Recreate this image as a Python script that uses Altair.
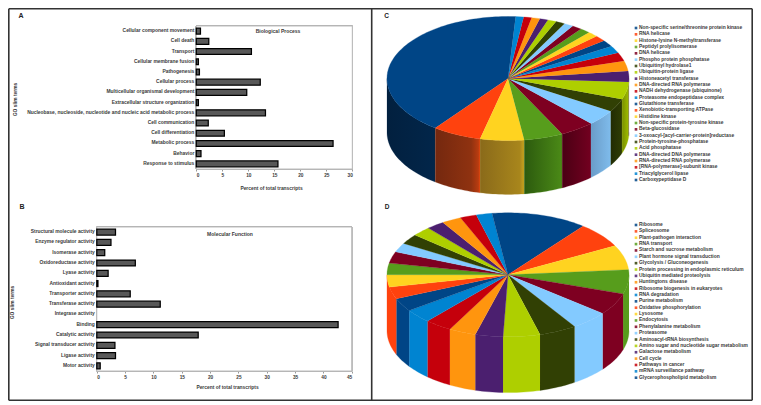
import math
import altair as alt
import pandas as pd

FONT = "Liberation Sans"
TXT = "#3a3a3a"
PALETTE = ["#004586", "#ff420e", "#ffd320", "#579d1c", "#7e0021", "#83caff",
           "#314004", "#aecf00", "#4b1f6f", "#ff950e", "#c5000b", "#0084d1"]

# ---- Panel A
bp_terms = ["Cellular component movement", "Cell death", "Transport", "Cellular membrane fusion",
            "Pathogenesis", "Cellular process", "Multicellular organismal development",
            "Extracellular structure organization",
            "Nucleobase, nucleoside, nucleotide and nucleic acid metabolic process",
            "Cell communication", "Cell differentiation", "Metabolic process", "Behavior",
            "Response to stimulus"]
bp_values = [0.8, 2.4, 10.6, 0.4, 0.6, 12.3, 9.7, 0.4, 13.3, 2.3, 5.4, 26.3, 0.9, 15.7]

# ---- Panel B
mf_terms = ["Structural molecule activity", "Enzyme regulator activity", "Isomerase activity",
            "Oxidoreductase activity", "Lyase activity", "Antioxidant activity",
            "Transporter activity", "Transferase activity", "Integrase activity", "Binding",
            "Catalytic activity", "Signal transducer activity", "Ligase activity", "Motor activity"]
mf_values = [3.3, 2.5, 1.4, 6.8, 2.0, 0.2, 5.9, 11.2, 0, 42.6, 17.9, 3.2, 3.3, 0.6]

# ---- Panel C
c_names = ["Non-specific serine/threonine protein kinase", "RNA helicase",
           "Histone-lysine N-methyltransferase", "Peptidyl prolylisomerase", "DNA helicase",
           "Phospho protein phosphatase", "Ubiquitinyl hydrolase1", "Ubiquitin-protein ligase",
           "Histoneacetyl transferase", "DNA-directed RNA polymerase",
           "NADH dehydrogenase (ubiquinone)", "Proteasome endopeptidase complex",
           "Glutathione transferase", "Xenobiotic-transporting ATPase", "Histidine kinase",
           "Non-specific protein-tyrosine kinase", "Beta-glucosidase",
           "3-oxoacyl-[acyl-carrier-protein]reductase", "Protein-tyrosine-phosphatase",
           "Acid phosphatase", "DNA-directed DNA polymerase", "RNA-directed RNA polymerase",
           "[RNA-polymerase]-subunit kinase", "Triacylglycerol lipase", "Carboxypeptidase D"]
c_values = [39.4, 6.5, 5.8, 5.2, 4.6, 4.1, 3.4, 4.5, 2.8, 2.6, 2.2, 1.9, 1.7, 1.5, 1.4,
            1.35, 1.3, 1.25, 1.2, 1.15, 1.1, 1.1, 1.05, 1.05, 1.0]

# ---- Panel D
d_names = ["Ribosome", "Spliceosome", "Plant-pathogen interaction", "RNA transport",
           "Starch and sucrose metabolism", "Plant hormone signal transduction",
           "Glycolysis / Gluconeogenesis", "Protein processing in endoplasmic reticulum",
           "Ubiquitin mediated proteolysis", "Huntingtons disease",
           "Ribosome biogenesis in eukaryotes", "RNA degradation", "Purine metabolism",
           "Oxidative phosphorylation", "Lysosome", "Endocytosis", "Phenylalanine metabolism",
           "Proteasome", "Aminoacyl-tRNA biosynthesis",
           "Amino sugar and nucleotide sugar metabolism", "Galactose metabolism", "Cell cycle",
           "Pathways in cancer", "mRNA surveillance pathway", "Glycerophospholipid metabolism"]
d_values = [10.6, 6.6, 6.4, 6.3, 5.7, 5.0, 5.0, 4.9, 3.7, 3.6, 3.6, 3.6, 3.5, 3.1, 3.2, 3.0,
            3.0, 2.4, 2.6, 2.5, 2.4, 2.6, 2.2, 2.1, 2.1]

W, H, M = 745, 393, 8


def px(v):
    return v - M


def arc(a, b):
    n = max(2, int(abs(b - a) / 1.5) + 1)
    return [a + (b - a) * k / (n - 1) for k in range(n)]


def pie_frames(names, values, sign, depth, merge_left):
    total = sum(values)
    tops, walls, cum = [], [], 0.0
    for idx, (name, val) in enumerate(zip(names, values)):
        a = cum / total * 360
        cum += val
        b = cum / total * 360
        lo, hi = (a, b) if sign > 0 else (360 - b, 360 - a)
        rows = [dict(name=name, i=0, x=0.0, y=0.0)]
        for j, t in enumerate(arc(lo, hi)):
            r = math.radians(t)
            rows.append(dict(name=name, i=j + 1, x=math.sin(r), y=math.cos(r)))
        tops.append(rows)
        l2, h2 = max(lo, 90), min(hi, 270)
        if merge_left is not None:
            if lo >= merge_left:
                h2 = l2
            elif hi >= merge_left:
                h2 = 270
        if h2 > l2:
            pts = arc(l2, h2)
            w = [dict(name=name, i=j, x=math.sin(math.radians(t)), y=math.cos(math.radians(t)))
                 for j, t in enumerate(pts)]
            n = len(w)
            w += [dict(name=name, i=n + j, x=math.sin(math.radians(t)),
                       y=math.cos(math.radians(t)) - depth)
                  for j, t in enumerate(reversed(pts))]
            walls.append((idx, w))
    return tops, walls


def poly_xy(cx, cy, rx, ry):
    xs = alt.Scale(domain=[-1, 1], range=[px(cx - rx), px(cx + rx)], nice=False, zero=False)
    ys = alt.Scale(domain=[-1, 1], range=[px(cy + ry), px(cy - ry)], nice=False, zero=False)
    return (alt.X("x:Q", scale=xs, axis=None), alt.Y("y:Q", scale=ys, axis=None))


def pie_layers(names, values, sign, cx, cy, rx, ry, depth, wall_stops, merge_left=None):
    colors = [PALETTE[i % 12] for i in range(len(names))]
    fs = alt.Scale(domain=names, range=colors)
    X, Y = poly_xy(cx, cy, rx, ry)
    tops, walls = pie_frames(names, values, sign, depth, merge_left)
    out = []
    for idx, w in walls:
        df = pd.DataFrame(w)
        if wall_stops is not None:
            stops = [alt.GradientStop(offset=o, color=c) for o, c in wall_stops[idx % 12]]
            grad = alt.LinearGradient(gradient="linear", stops=stops, x1=0, x2=1, y1=0, y2=0)
            m = alt.Chart(df).mark_line(fill=grad, stroke=wall_stops[idx % 12][1][1], strokeWidth=0.2)
            out.append(m.encode(x=X, y=Y, order=alt.Order("i:Q")))
        else:
            m = alt.Chart(df).mark_line(strokeWidth=0.3)
            out.append(m.encode(x=X, y=Y, order=alt.Order("i:Q"),
                                fill=alt.Fill("name:N", scale=fs, legend=None),
                                stroke=alt.Stroke("name:N", scale=fs, legend=None)))
    top_df = pd.DataFrame([r for rows in tops for r in rows])
    out.append(alt.Chart(top_df).mark_line(strokeWidth=0.3).encode(
        x=X, y=Y, order=alt.Order("i:Q"),
        fill=alt.Fill("name:N", scale=fs, legend=None),
        stroke=alt.Stroke("name:N", scale=fs, legend=None)))
    return out


def legend_layers(names, x_sq, x_txt, y0, y1):
    colors = [PALETTE[i % 12] for i in range(len(names))]
    df = pd.DataFrame({"name": names})
    ys = alt.Scale(domain=names, range=[px(y0), px(y1)], type="point", padding=0)
    Y = alt.Y("name:N", scale=ys, axis=None, sort=None)
    sq = alt.Chart(df).mark_square(size=7, opacity=0.85).encode(
        x=alt.value(px(x_sq)), y=Y,
        fill=alt.Fill("name:N", scale=alt.Scale(domain=names, range=colors), legend=None))
    tx = alt.Chart(df).mark_text(align="left", baseline="middle", font=FONT, fontSize=4.9,
                                 fontWeight="bold", color=TXT).encode(
        x=alt.value(px(x_txt)), y=Y, text="name:N")
    return [sq, tx]


def bar_panel(terms, values, xmax, step, x0, x1, y0, y1, title_x, title_y, ylab_x, ylab_y):
    df = pd.DataFrame({"term": terms, "v": values})
    ticks = list(range(0, xmax + 1, step))
    xs = alt.Scale(domain=[0, xmax], range=[px(x0), px(x1)], nice=False)
    ys = alt.Scale(domain=terms, range=[px(y0), px(y1)], type="band", paddingInner=0.42, paddingOuter=0.21)
    xa = alt.Axis(orient="bottom", offset=px(y1) - H, values=ticks, domain=False, grid=False, tickSize=2,
                  tickColor="#999999", labelFont=FONT, labelFontSize=4.75, labelFontWeight="bold",
                  labelColor=TXT, labelPadding=1, title="Percent of total transcripts",
                  titleFont=FONT, titleFontSize=4.9, titleFontWeight="bold", titleColor=TXT,
                  titleX=px(title_x), titleY=title_y - y1 - 1.5, titleAlign="center", format="d")
    ya = alt.Axis(orient="left", offset=-px(x0), domain=False, ticks=False, grid=False, labelFont=FONT,
                  labelFontSize=4.92, labelFontWeight="bold", labelColor=TXT, labelPadding=2.5,
                  labelLimit=300, title="GO slim terms", titleFont=FONT, titleFontSize=4.9,
                  titleFontWeight="bold", titleColor=TXT, titleX=ylab_x + 2.5 - x0, titleY=px(ylab_y),
                  titleAlign="center")
    box = alt.Chart(df).mark_rect(fill="white", stroke="#b5b5b5", strokeWidth=0.9).encode(
        x=alt.value(px(x0)), x2=alt.value(px(x1)), y=alt.value(px(y0)), y2=alt.value(px(y1)))
    chart = alt.Chart(df).transform_filter("datum.v > 0").mark_bar(
        fill="#585858", stroke="#000000", strokeWidth=1.25).encode(
        x=alt.X("v:Q", scale=xs, axis=xa),
        y=alt.Y("term:N", scale=ys, axis=ya, sort=None))
    return [box, chart]


def label(txt, x, y, size=5.0, color=TXT, align="center"):
    return alt.Chart(pd.DataFrame({"t": [txt]})).mark_text(
        align=align, baseline="middle", font=FONT, fontSize=size, fontWeight="bold", color=color
    ).encode(x=alt.value(px(x)), y=alt.value(px(y)), text="t:N")


def rule(x1, y1, x2, y2):
    return alt.Chart(pd.DataFrame({"a": [0]})).mark_rule(color="#333333", strokeWidth=1.6).encode(
        x=alt.value(x1), x2=alt.value(x2), y=alt.value(y1), y2=alt.value(y2))


C_WALLS = {
    0: [(0, "#02203f"), (1, "#02264a")],
    1: [(0, "#74280f"), (0.8, "#8f3210"), (0.96, "#b83c10"), (1, "#e8420e")],
    2: [(0, "#8a6a1a"), (0.9, "#a8861c"), (1, "#c9a41e")],
    3: [(0, "#2c5a0e"), (1, "#4b8a17")],
    4: [(0, "#4a0014"), (1, "#730020")],
    5: [(0, "#6a9cc8"), (1, "#7fbcec")],
    6: [(0, "#222c03"), (1, "#2f3d04")],
    7: [(0, "#7a9000"), (1, "#a0be00")],
    8: [(0, "#4b1f6f"), (1, "#4b1f6f")],
}

layers = []
layers += [rule(0.8, 0.8, 744.2, 0.8), rule(0.8, 392.2, 744.2, 392.2),
           rule(0.8, 0.8, 0.8, 392.2), rule(744.2, 0.8, 744.2, 392.2),
           rule(363.7, 0.8, 363.7, 392.2)]
layers += bar_panel(bp_terms, bp_values, 30, 5, 196.3, 352.3, 26, 169, 271, 187, 14.7, 99)
layers += bar_panel(mf_terms, mf_values, 45, 5, 96.8, 351.7, 227, 371, 227, 386, 12.3, 302)
layers += pie_layers(c_names, c_values, -1, 508, 78.5, 121, 62, 0.87, C_WALLS)
layers += pie_layers(d_names, d_values, 1, 508, 274.8, 121, 62, 0.90, None, merge_left=256)
layers += legend_layers(c_names, 636, 639, 28, 180)
layers += legend_layers(d_names, 636, 639, 225, 377.7)
layers += [label("A", 21, 16, 7, "#222222"), label("B", 22, 207, 7, "#222222"),
           label("C", 386.5, 16, 6.5, "#222222"), label("D", 387, 207, 6.5, "#222222"),
           label("Biological Process", 278, 31, 5.0), label("Molecular Function", 230, 233.5, 5.0)]

chart = alt.layer(*layers).resolve_scale(
    x="independent", y="independent", fill="independent", stroke="independent"
).properties(width=W, height=H, padding=0, autosize=alt.AutoSizeParams(type="none")).configure_view(stroke=None)

chart.save("out.html", embed_options={"renderer": "svg", "actions": False})
